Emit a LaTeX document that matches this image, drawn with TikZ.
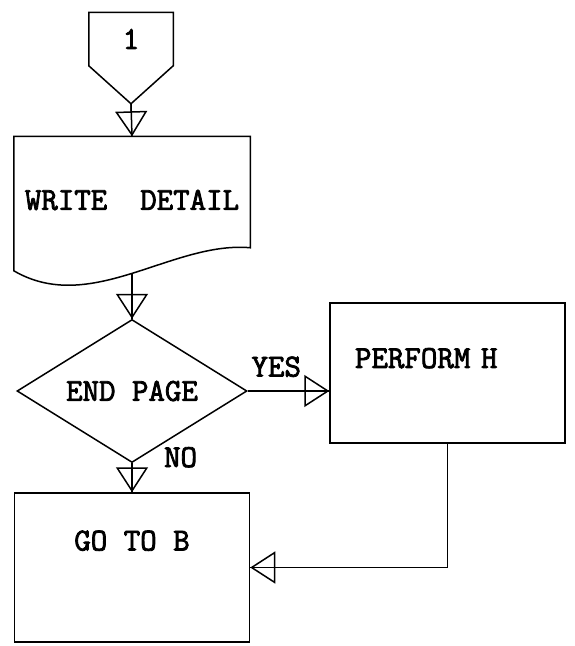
\documentclass[tikz,border=0pt]{standalone}
\usepackage{fontspec}
\setmonofont[AutoFakeBold=2.5]{Latin Modern Mono}
\usetikzlibrary{arrows.meta,shapes}

\tikzset{
  every node/.style={font=\ttfamily\bfseries\fontsize{32}{36}\selectfont},
  flow/.style={-{Triangle[open,length=25pt,width=32pt]}, postaction={draw,-}},
}

\begin{document}
\begin{tikzpicture}[x=1pt,y=-1pt,shape=rectangle,line width=1.5pt]
\useasboundingbox (0,0) rectangle (574,646);

\node (conn) [minimum width=83pt, minimum height=52pt, inner sep=0pt]
at (131,39) {1};
\node (write) [minimum width=235pt, minimum height=126pt] at (132,200)
{WRITE~~DETAIL};
\node (endpage) [draw, shape=diamond, aspect=1.6, inner sep=0pt,
minimum width=230pt, minimum height=143pt, node distance=191pt, below of=write]
{END PAGE};
\node (perform) [draw, minimum width=235pt, minimum height=140pt,
text width=185pt, align=left, text depth=30pt,
node distance=315.5pt, right of=endpage, yshift=18pt]
{PERFORM H};
\node (goto) [draw, minimum width=235pt, minimum height=149pt,
text depth=54pt, node distance=176.5pt, below of=endpage]
{GO TO B};

% off-page connector
\draw (conn.north west) -- (conn.north east) -- (conn.south east)
-- ([yshift=-38pt]conn.south) -- (conn.south west) -- cycle;
\coordinate (conntip) at ([yshift=-38pt]conn.south);

% document symbol with wavy bottom
\draw (write.north west) -- (write.north east) -- ([yshift=16pt]write.south east)
.. controls +(-78,-7) and +(77,45) .. ([yshift=-7pt]write.south west) -- cycle;
\coordinate (wavebot) at ([yshift=-10pt]write.south);

\draw[flow] (conntip) -- (write.north);
\draw[flow] (wavebot) -- (endpage.north);
\draw[flow] (endpage.east) -- node[pos=0.35, above=10pt] {YES}
(endpage.east -| perform.west);
\draw[flow] (endpage.south) -- node[pos=0, anchor=west, xshift=28pt, yshift=6pt] {NO}
(goto.north);
\draw[flow] (perform.south) |- (goto.east);
\end{tikzpicture}
\end{document}
